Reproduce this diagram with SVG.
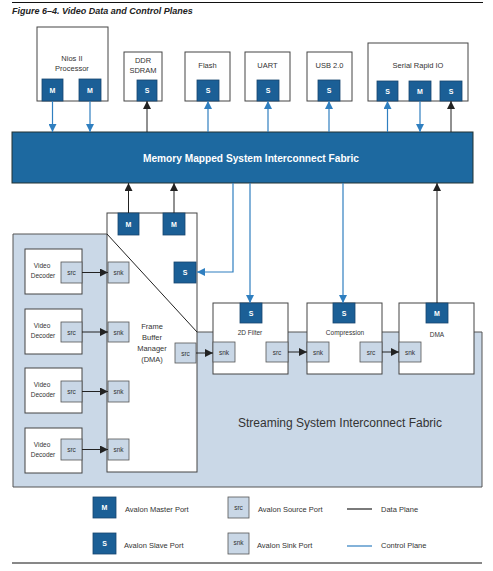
<svg xmlns="http://www.w3.org/2000/svg" width="493" height="571" viewBox="0 0 493 571">
<defs>
<style>
text{font-family:"Liberation Sans",Arial,sans-serif;}
.box{fill:#fff;stroke:#444;stroke-width:1;}
.pd{fill:#1b5f96;stroke:#17456e;stroke-width:0.8;}
.pl{fill:#c9d7e6;stroke:#555;stroke-width:0.8;}
.pt{fill:#fff;font-size:7px;font-weight:bold;text-anchor:middle;}
.lt{fill:#333;font-size:6.5px;text-anchor:middle;}
.lbl{fill:#333;font-size:7.5px;text-anchor:middle;}
.leg{fill:#333;font-size:7.5px;}
.data{stroke:#222;stroke-width:1;fill:none;}
.ctl{stroke:#2f7fc0;stroke-width:1.2;fill:none;}
</style>
<marker id="ab" viewBox="0 0 10 10" refX="10" refY="5" markerWidth="8" markerHeight="8" orient="auto" markerUnits="userSpaceOnUse"><path d="M0,0 L10,5 L0,10 z" fill="#222"/></marker>
<marker id="ac" viewBox="0 0 10 10" refX="10" refY="5" markerWidth="8" markerHeight="8" orient="auto" markerUnits="userSpaceOnUse"><path d="M0,0 L10,5 L0,10 z" fill="#2f7fc0"/></marker>
</defs>
<rect width="493" height="571" fill="#fff"/>
<line x1="12" y1="2.5" x2="483" y2="2.5" stroke="#111" stroke-width="1"/>
<text x="12" y="14" font-size="9" font-weight="bold" font-style="italic" fill="#222">Figure 6–4. Video Data and Control Planes</text>

<g id="streaming-fabric">
<path d="M13,234 L107,234 L197,332 L482,332 L482,487 L13,487 Z" fill="#cad8e7" stroke="#555" stroke-width="1"/>
<text x="340" y="427" font-size="12" fill="#333" text-anchor="middle">Streaming System Interconnect Fabric</text>
</g>

<g id="mm-fabric">
<rect x="12" y="132" width="461" height="51" fill="#1d69a0" stroke="#233" stroke-width="1"/>
<text x="251" y="162" font-size="10" font-weight="bold" fill="#fff" text-anchor="middle" textLength="216" lengthAdjust="spacingAndGlyphs">Memory Mapped System Interconnect Fabric</text>
</g>

<g id="nios">
<rect class="box" x="37" y="27" width="71" height="74"/>
<text class="lbl" x="72" y="61">Nios II</text>
<text class="lbl" x="72" y="71">Processor</text>
<rect class="pd" x="42" y="79" width="21" height="22"/><text class="pt" x="52.5" y="93">M</text>
<rect class="pd" x="79" y="79" width="22" height="22"/><text class="pt" x="90" y="93">M</text>
</g>

<g id="ddr">
<rect class="box" x="124" y="52" width="38" height="49"/>
<text class="lbl" x="143" y="63">DDR</text>
<text class="lbl" x="143" y="73">SDRAM</text>
<rect class="pd" x="137" y="80" width="20" height="21"/><text class="pt" x="147" y="93">S</text>
</g>

<g id="flash">
<rect class="box" x="185" y="52" width="45" height="49"/>
<text class="lbl" x="207.5" y="68">Flash</text>
<rect class="pd" x="197" y="80" width="22" height="21"/><text class="pt" x="208" y="93">S</text>
</g>

<g id="uart">
<rect class="box" x="245" y="52" width="45" height="49"/>
<text class="lbl" x="267.5" y="68">UART</text>
<rect class="pd" x="257" y="80" width="22" height="21"/><text class="pt" x="268" y="93">S</text>
</g>

<g id="usb">
<rect class="box" x="307" y="52" width="45" height="49"/>
<text class="lbl" x="329.5" y="68">USB 2.0</text>
<rect class="pd" x="318" y="80" width="22" height="21"/><text class="pt" x="329" y="93">S</text>
</g>

<g id="srio">
<rect class="box" x="368" y="43" width="100" height="58"/>
<text class="lbl" x="418" y="68">Serial Rapid IO</text>
<rect class="pd" x="377" y="81" width="21" height="20"/><text class="pt" x="387.5" y="93.5">S</text>
<rect class="pd" x="409" y="81" width="22" height="20"/><text class="pt" x="420" y="93.5">M</text>
<rect class="pd" x="440" y="81" width="22" height="20"/><text class="pt" x="451" y="93.5">S</text>
</g>

<g id="fbm">
<rect class="box" x="107" y="213" width="90" height="259"/>
<text class="lbl" x="152" y="329">Frame</text>
<text class="lbl" x="152" y="340">Buffer</text>
<text class="lbl" x="152" y="351">Manager</text>
<text class="lbl" x="152" y="362">(DMA)</text>
<rect class="pd" x="118" y="213" width="21" height="22"/><text class="pt" x="128.5" y="227">M</text>
<rect class="pd" x="163" y="213" width="22" height="22"/><text class="pt" x="174" y="227">M</text>
<rect class="pd" x="174" y="262" width="22" height="21"/><text class="pt" x="185" y="275">S</text>
<rect class="pl" x="108" y="262" width="21" height="21"/><text class="lt" x="118.5" y="275">snk</text>
<rect class="pl" x="108" y="322" width="21" height="20"/><text class="lt" x="118.5" y="334.5">snk</text>
<rect class="pl" x="108" y="381" width="21" height="21"/><text class="lt" x="118.5" y="394">snk</text>
<rect class="pl" x="108" y="439" width="21" height="21"/><text class="lt" x="118.5" y="452">snk</text>
<rect class="pl" x="175" y="343" width="21" height="20"/><text class="lt" x="185.5" y="355.5">src</text>
</g>
<line x1="107" y1="234" x2="197" y2="332" stroke="#222" stroke-width="1"/>

<g id="vd1">
<rect class="box" x="25" y="249" width="57" height="45"/>
<text class="lt" x="42" y="268">Video</text><text class="lt" x="43" y="278">Decoder</text>
<rect class="pl" x="61" y="262" width="21" height="21"/><text class="lt" x="71.5" y="275">src</text>
</g>
<g id="vd2">
<rect class="box" x="25" y="309" width="57" height="45"/>
<text class="lt" x="42" y="328">Video</text><text class="lt" x="43" y="338">Decoder</text>
<rect class="pl" x="61" y="322" width="21" height="20"/><text class="lt" x="71.5" y="334.5">src</text>
</g>
<g id="vd3">
<rect class="box" x="25" y="368" width="57" height="45"/>
<text class="lt" x="42" y="387">Video</text><text class="lt" x="43" y="397">Decoder</text>
<rect class="pl" x="61" y="381" width="21" height="21"/><text class="lt" x="71.5" y="394">src</text>
</g>
<g id="vd4">
<rect class="box" x="25" y="428" width="57" height="45"/>
<text class="lt" x="42" y="447">Video</text><text class="lt" x="43" y="457">Decoder</text>
<rect class="pl" x="61" y="439" width="21" height="21"/><text class="lt" x="71.5" y="452">src</text>
</g>

<g id="filter2d">
<rect class="box" x="213" y="303" width="75" height="71"/>
<text class="lt" x="250" y="335">2D Filter</text>
<rect class="pd" x="240" y="303" width="22" height="20"/><text class="pt" x="251" y="315.5">S</text>
<rect class="pl" x="213" y="342" width="22" height="20"/><text class="lt" x="224" y="354.5">snk</text>
<rect class="pl" x="266" y="342" width="22" height="20"/><text class="lt" x="277" y="354.5">src</text>
</g>
<g id="compression">
<rect class="box" x="307" y="303" width="75" height="71"/>
<text class="lt" x="345" y="335">Compression</text>
<rect class="pd" x="333" y="303" width="22" height="20"/><text class="pt" x="344" y="315.5">S</text>
<rect class="pl" x="307" y="342" width="22" height="20"/><text class="lt" x="318" y="354.5">snk</text>
<rect class="pl" x="360" y="342" width="22" height="20"/><text class="lt" x="371" y="354.5">src</text>
</g>
<g id="dma">
<rect class="box" x="399" y="303" width="75" height="71"/>
<text class="lt" x="437" y="337">DMA</text>
<rect class="pd" x="426" y="303" width="22" height="20"/><text class="pt" x="437" y="315.5">M</text>
<rect class="pl" x="399" y="342" width="22" height="20"/><text class="lt" x="410" y="354.5">snk</text>
</g>

<g id="connectors">
<line class="ctl" x1="52.5" y1="101" x2="52.5" y2="132" marker-end="url(#ac)"/>
<line class="ctl" x1="90" y1="101" x2="90" y2="132" marker-end="url(#ac)"/>
<line class="data" x1="147" y1="132" x2="147" y2="101" marker-end="url(#ab)"/>
<line class="ctl" x1="208" y1="132" x2="208" y2="101" marker-end="url(#ac)"/>
<line class="ctl" x1="268" y1="132" x2="268" y2="101" marker-end="url(#ac)"/>
<line class="ctl" x1="329" y1="132" x2="329" y2="101" marker-end="url(#ac)"/>
<line class="ctl" x1="387.5" y1="132" x2="387.5" y2="101" marker-end="url(#ac)"/>
<line class="ctl" x1="420" y1="101" x2="420" y2="132" marker-end="url(#ac)"/>
<line class="data" x1="451" y1="132" x2="451" y2="101" marker-end="url(#ab)"/>
<line class="data" x1="128.5" y1="213" x2="128.5" y2="183" marker-end="url(#ab)"/>
<line class="data" x1="174" y1="213" x2="174" y2="183" marker-end="url(#ab)"/>
<line class="data" x1="437" y1="303" x2="437" y2="183" marker-end="url(#ab)"/>
<path class="ctl" d="M233,183 L233,272 L197,272" marker-end="url(#ac)"/>
<line class="ctl" x1="250" y1="183" x2="250" y2="303" marker-end="url(#ac)"/>
<line class="ctl" x1="343" y1="183" x2="343" y2="303" marker-end="url(#ac)"/>
<line class="data" x1="82" y1="272.5" x2="108" y2="272.5" marker-end="url(#ab)"/>
<line class="data" x1="82" y1="332" x2="108" y2="332" marker-end="url(#ab)"/>
<line class="data" x1="82" y1="391.5" x2="108" y2="391.5" marker-end="url(#ab)"/>
<line class="data" x1="82" y1="449.5" x2="108" y2="449.5" marker-end="url(#ab)"/>
<line class="data" x1="196" y1="353" x2="213" y2="353" marker-end="url(#ab)"/>
<line class="data" x1="288" y1="352" x2="307" y2="352" marker-end="url(#ab)"/>
<line class="data" x1="382" y1="352" x2="399" y2="352" marker-end="url(#ab)"/>
</g>

<g id="legend">
<rect class="pd" x="93" y="497" width="23" height="21"/><text class="pt" x="104.5" y="510">M</text>
<text class="leg" x="125" y="512">Avalon Master Port</text>
<rect class="pl" x="228" y="497" width="21" height="21"/><text class="lt" x="238.5" y="510">src</text>
<text class="leg" x="258" y="512">Avalon Source Port</text>
<line x1="347" y1="509" x2="372" y2="509" stroke="#222" stroke-width="1.2"/>
<text class="leg" x="381" y="512">Data Plane</text>
<rect class="pd" x="93" y="533" width="23" height="21"/><text class="pt" x="104.5" y="546">S</text>
<text class="leg" x="124" y="548">Avalon Slave Port</text>
<rect class="pl" x="228" y="533" width="21" height="21"/><text class="lt" x="238.5" y="545">snk</text>
<text class="leg" x="257" y="548">Avalon Sink Port</text>
<line x1="347" y1="546" x2="372" y2="546" stroke="#2f7fc0" stroke-width="1.2"/>
<text class="leg" x="381" y="548">Control Plane</text>
</g>
<line x1="12" y1="563" x2="482" y2="563" stroke="#111" stroke-width="1"/>
</svg>
